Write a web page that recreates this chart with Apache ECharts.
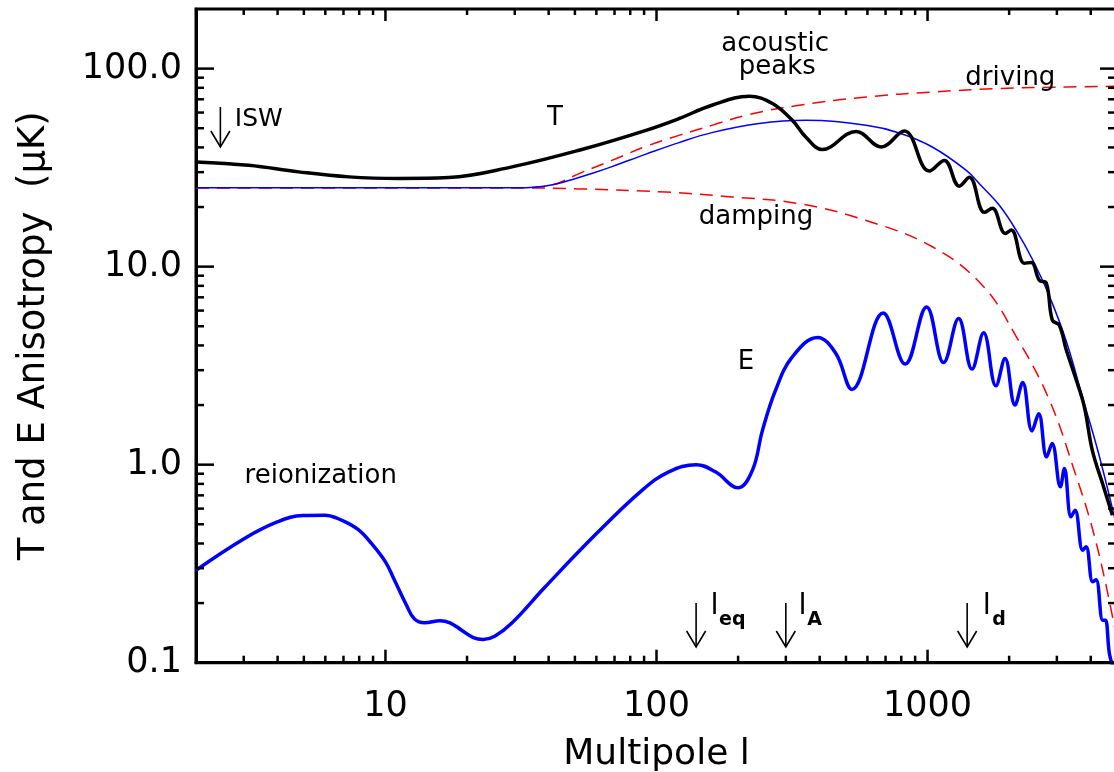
<!DOCTYPE html>
<html>
<head>
<meta charset="utf-8">
<script src="https://cdn.jsdelivr.net/npm/echarts@6/dist/echarts.min.js"></script>
<style>html,body{margin:0;padding:0;background:#fff;}#c{width:1114px;height:772px;}</style>
</head>
<body>
<div id="c"></div>
<script>
// ---- data ----
const T_l = [2, 3.13, 4.78, 7.33, 11.2, 17.1, 29.3, 51.8, 91.5, 121, 160, 220, 267, 317, 356, 408, 545, 675, 820, 1015, 1153, 1310, 1426, 1620, 1734, 1936, 2037, 2275, 2415, 2585, 2744, 2886, 3062, 3251, 3540, 3788, 4054, 4413, 4808];
const T_v = [33.8, 32.5, 30.1, 28.4, 27.9, 28.2, 31.9, 38.7, 48.8, 55.9, 65.3, 72.5, 66.8, 54.8, 45.0, 39.0, 48.2, 40.2, 48.4, 30.4, 34.4, 25.5, 28.3, 18.8, 19.7, 14.7, 15.3, 10.4, 10.5, 8.54, 8.25, 5.37, 5.06, 3.79, 2.67, 1.96, 1.18, 0.81, 0.556];

const E_l = [2, 3.02, 4.01, 4.96, 5.97, 6.88, 7.92, 8.88, 10, 10.8, 11.96, 12.8, 13.96, 15.9, 17.3, 19.1, 21.1, 22.9, 25.3, 29.2, 38.8, 59.3, 88.6, 111, 140, 165, 200, 226, 246, 275, 317, 393, 459, 526, 686, 827, 992, 1146, 1302, 1459, 1610, 1788, 1931, 2102, 2243, 2429, 2570, 2750, 2880, 3090, 3197, 3383, 3502, 3735, 3846, 4067, 4187, 4429, 4531, 4688, 4851];
const E_v = [0.293, 0.424, 0.515, 0.554, 0.556, 0.525, 0.471, 0.400, 0.323, 0.261, 0.195, 0.166, 0.159, 0.163, 0.159, 0.146, 0.134, 0.131, 0.136, 0.158, 0.241, 0.441, 0.744, 0.920, 1.0, 0.92, 0.764, 0.938, 1.49, 2.38, 3.50, 4.39, 3.64, 2.40, 5.84, 3.22, 6.26, 3.28, 5.47, 3.04, 4.63, 2.50, 3.44, 2.00, 2.60, 1.48, 1.81, 1.095, 1.28, 0.773, 0.957, 0.545, 0.589, 0.370, 0.385, 0.256, 0.262, 0.164, 0.164, 0.111, 0.094];

const Env_l = [2, 29.3, 33, 38, 43, 50, 58, 68.5, 91.5, 121, 160, 239, 356, 594, 786, 1041, 1390, 1592, 1840, 2127, 2436, 2815, 3250, 3727, 4306, 5000];
const Env_v = [25.0, 25.0, 25.05, 25.4, 26.2, 27.8, 29.6, 32.0, 37.0, 42.3, 47.5, 52.8, 54.8, 51.7, 47.3, 40.2, 30.6, 25.3, 20.4, 15.2, 10.9, 7.1, 4.2, 2.2, 1.1, 0.48];

const Drv_l = [2, 29.3, 33, 38, 43, 51.8, 68.5, 91.5, 121, 160, 220, 336, 594, 1041, 1840, 3251, 5000];
const Drv_v = [25, 25, 25.05, 25.4, 26.3, 29.5, 34.4, 40.5, 46.0, 51.7, 58.7, 65.3, 71.9, 76.2, 79.3, 80.8, 81.4];

const Dmp_l = [2, 29.3, 51.8, 108, 190, 336, 594, 1041, 1592, 2127, 2815, 3540, 4054, 4570, 5000];
const Dmp_v = [25, 25, 24.7, 23.8, 22.5, 20.8, 17.1, 12.6, 8.06, 4.42, 2.12, 0.868, 0.478, 0.241, 0.130];

const xMajor = [10, 100, 1000];
const xMinor = [3,4,5,6,7,8,9,20,30,40,50,60,70,80,90,200,300,400,500,600,700,800,900,2000,3000,4000];
const yMajor = [0.1, 1, 10, 100];
const yMinor = [0.2,0.3,0.4,0.5,0.6,0.7,0.8,0.9,2,3,4,5,6,7,8,9,20,30,40,50,60,70,80,90];

// arrows: [l, value at top of shaft, value at tip]
const arrows = [[2.46, 64, 40.2], [140, 0.2, 0.12], [300, 0.2, 0.12], [1400, 0.2, 0.12]];

// annotation texts: [text, l, value, align, fontSize, bold]
const notes = [
  ['ISW', 2.78, 55.5, 'left', 25, false],
  ['T', 42.2, 56.1, 'center', 26, false],
  ['acoustic', 274, 133, 'center', 26, false],
  ['peaks', 279, 101.5, 'center', 26, false],
  ['driving', 2021, 89.3, 'center', 26, false],
  ['damping', 233, 17.7, 'center', 26, false],
  ['E', 214, 3.29, 'center', 26, false],
  ['reionization', 5.77, 0.874, 'center', 26, false],
  ['l', 163.8, 0.193, 'center', 29, false],
  ['eq', 170.2, 0.164, 'left', 19, true],
  ['l', 346, 0.193, 'center', 29, false],
  ['A', 359.6, 0.164, 'left', 19, true],
  ['l', 1654, 0.193, 'center', 29, false],
  ['d', 1734, 0.164, 'left', 19, true]
];

const FONT = 'DejaVu Sans';
const zip = (a, b) => a.map((x, i) => [x, b[i]]);
const isPow10 = v => Math.abs(Math.log10(v) - Math.round(Math.log10(v))) < 1e-6;

const tickData = [];
xMajor.forEach(v => tickData.push([v, 1, 0, 1]));
xMinor.forEach(v => tickData.push([v, 1, 0, 0]));
yMajor.forEach(v => tickData.push([10, v, 1, 1]));
yMinor.forEach(v => tickData.push([10, v, 1, 0]));

const chart = echarts.init(document.getElementById('c'));
chart.setOption({
  animation: false,
  backgroundColor: '#fff',
  grid: {left: 196, top: 9, width: 921, height: 653.7, show: true, borderColor: '#000', borderWidth: 3,
         backgroundColor: 'transparent', containLabel: false, outerBoundsMode: 'none'},
  xAxis: {
    type: 'log', logBase: 10, min: 2, max: 5000,
    axisLine: {lineStyle: {color: '#000', width: 3}},
    axisTick: {show: false}, splitLine: {show: false}, minorTick: {show: false},
    axisLabel: {interval: 0, color: '#000', fontFamily: FONT, fontSize: 35, margin: 27,
      formatter: v => isPow10(v) ? String(Math.round(Math.pow(10, Math.round(Math.log10(v))))) : ''},
    name: 'Multipole l', nameLocation: 'middle', nameGap: 74,
    nameTextStyle: {color: '#000', fontFamily: FONT, fontSize: 36}
  },
  yAxis: {
    type: 'log', logBase: 10, min: 0.1, max: 200,
    axisLine: {lineStyle: {color: '#000', width: 3}},
    axisTick: {show: false}, splitLine: {show: false}, minorTick: {show: false},
    axisLabel: {interval: 0, color: '#000', fontFamily: FONT, fontSize: 35, margin: 14,
      formatter: v => {
        if (!isPow10(v)) return '';
        const p = Math.round(Math.log10(v));
        return p < 0 ? '0.1' : Math.pow(10, p).toFixed(1);
      }},
    name: 'T and E Anisotropy  (μK)', nameLocation: 'middle', nameGap: 143, nameRotate: 90,
    nameTextStyle: {color: '#000', fontFamily: FONT, fontSize: 37}
  },
  series: [
    {type: 'line', name: 'driving', data: zip(Drv_l, Drv_v), smooth: 0.4, symbol: 'none',
     lineStyle: {color: '#ff0000', width: 1.5, type: [13, 8]}},
    {type: 'line', name: 'damping', data: zip(Dmp_l, Dmp_v), smooth: 0.4, symbol: 'none',
     lineStyle: {color: '#ff0000', width: 1.5, type: [13, 8]}},
    {type: 'line', name: 'envelope', data: zip(Env_l, Env_v), smooth: 0.4, symbol: 'none',
     lineStyle: {color: '#0000ff', width: 1.5}},
    {type: 'line', name: 'T', data: zip(T_l, T_v), smooth: 0.4, symbol: 'none',
     lineStyle: {color: '#000', width: 3.5}},
    {type: 'line', name: 'E', data: zip(E_l, E_v), smooth: 0.4, symbol: 'none',
     lineStyle: {color: '#0000ff', width: 3.5}},
    {type: 'custom', name: 'ticks', data: tickData, encode: {x: 0, y: 1}, silent: true, clip: false, z: 5,
     renderItem: (params, api) => {
       const cs = params.coordSys;
       const p = api.coord([api.value(0), api.value(1)]);
       const major = api.value(3) === 1;
       const st = {stroke: '#000', lineWidth: 2.5};
       const ln = (x1, y1, x2, y2) => ({type: 'line', shape: {x1, y1, x2, y2}, style: st});
       const ch = [];
       if (api.value(2) === 0) {
         const b = cs.y + cs.height, t = cs.y;
         ch.push(ln(p[0], b, p[0], b - (major ? 13 : 7)));
         ch.push(ln(p[0], t, p[0], t + (major ? 12 : 6)));
       } else {
         const l = cs.x, r = cs.x + cs.width;
         ch.push(ln(l, p[1], l + (major ? 18 : 8), p[1]));
         ch.push(ln(r, p[1], r - (major ? 17 : 9), p[1]));
       }
       return {type: 'group', children: ch};
     }},
    {type: 'custom', name: 'arrows', data: arrows, encode: {x: 0, y: 1}, silent: true, z: 6,
     renderItem: (params, api) => {
       const top = api.coord([api.value(0), api.value(1)]);
       const tip = api.coord([api.value(0), api.value(2)]);
       const st = {stroke: '#000', lineWidth: 1.6, fill: null};
       return {type: 'group', children: [
         {type: 'line', shape: {x1: top[0], y1: top[1], x2: tip[0], y2: tip[1]}, style: st},
         {type: 'polyline', shape: {points: [[tip[0] - 9.5, tip[1] - 16], [tip[0], tip[1]], [tip[0] + 9.5, tip[1] - 16]]}, style: st}
       ]};
     }},
    {type: 'custom', name: 'notes', silent: true, z: 7, clip: false,
     data: notes.map(n => [n[1], n[2]]), encode: {x: 0, y: 1},
     renderItem: (params, api) => {
       const n = notes[params.dataIndex];
       const p = api.coord([api.value(0), api.value(1)]);
       return {type: 'text', x: p[0], y: p[1], style: {
         text: n[0], fill: '#000', align: n[3], textAlign: n[3], verticalAlign: 'middle', textVerticalAlign: 'middle',
         font: (n[5] ? 'bold ' : '') + n[4] + 'px "' + FONT + '"'}};
     }}
  ]
});
</script>
</body>
</html>
